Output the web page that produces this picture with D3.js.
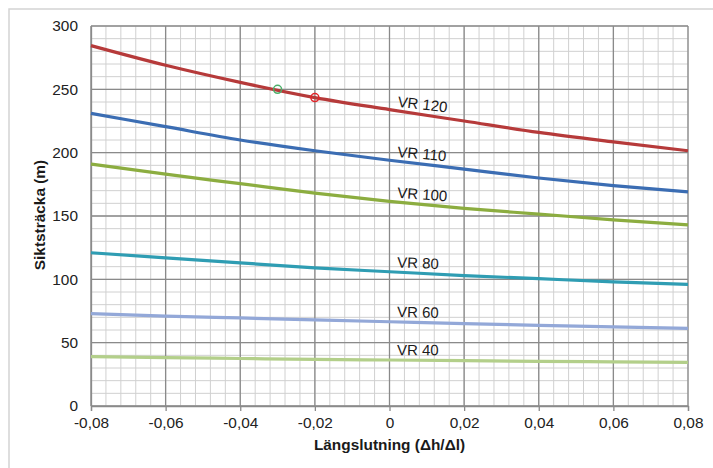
<!DOCTYPE html>
<html><head><meta charset="utf-8">
<script src="https://cdn.jsdelivr.net/npm/d3@7"></script>
<style>
body{margin:0;background:#fff;}
svg{display:block;font-family:"Liberation Sans",Arial,sans-serif;}
</style></head>
<body><svg id="c" width="713" height="468"></svg>
<script>
const xValues = [-0.08, -0.06, -0.04, -0.02, 0, 0.02, 0.04, 0.06, 0.08];
const seriesNames = ["VR 120", "VR 110", "VR 100", "VR 80", "VR 60", "VR 40"];
const vr120 = [284.5, 269, 255.5, 243.5, 234, 225, 216, 208.5, 201.5];
const vr110 = [231, 220.5, 210, 201.5, 194, 187, 180, 174, 169];
const vr100 = [191, 183, 175.5, 168, 161.5, 156, 151.5, 147, 143];
const vr80 = [121, 117, 113, 109, 106, 103, 100.5, 98, 96];
const vr60 = [73, 71, 69.5, 68, 66.5, 65, 63.7, 62.5, 61.3];
const vr40 = [39, 38.2, 37.5, 36.8, 36.3, 35.8, 35.3, 34.9, 34.5];
const seriesColors = ["#b63a3a", "#3b6db3", "#8cad40", "#2f9db3", "#93a8d8", "#b3cf8a"];
const xTicks = [-0.08, -0.06, -0.04, -0.02, 0, 0.02, 0.04, 0.06, 0.08];
const yTicks = [0, 50, 100, 150, 200, 250, 300];
const markerPoints = [{x: -0.03, y: 250, color: "#4caf6a"}, {x: -0.02, y: 243.5, color: "#e0252a"}];
const xTitle = "Längslutning (\u0394h/\u0394l)";
const yTitle = "Siktsträcka (m)";

const allSeries = [vr120, vr110, vr100, vr80, vr60, vr40];
const svg = d3.select("#c");
const L = 91, T = 26, R = 688, B = 406;
const x = d3.scaleLinear().domain([-0.08, 0.08]).range([L, R]);
const y = d3.scaleLinear().domain([0, 300]).range([B, T]);
const FONT = "Liberation Sans, Arial, sans-serif";

svg.append("rect").attr("x", 9).attr("y", 9).attr("width", 730).attr("height", 480)
  .attr("fill", "none").attr("stroke", "#d4d4d4").attr("stroke-width", 1.5);

const g = svg.append("g");
d3.range(-0.08, 0.0801, 0.004).forEach(v => {
  g.append("line").attr("x1", x(v)).attr("x2", x(v)).attr("y1", T).attr("y2", B)
    .attr("stroke", "#d0d0d0").attr("stroke-width", 1);
});
d3.range(0, 301, 10).forEach(v => {
  g.append("line").attr("x1", L).attr("x2", R).attr("y1", y(v)).attr("y2", y(v))
    .attr("stroke", "#d0d0d0").attr("stroke-width", 1);
});
xTicks.forEach(v => {
  g.append("line").attr("x1", x(v)).attr("x2", x(v)).attr("y1", T).attr("y2", B)
    .attr("stroke", "#8a8a8a").attr("stroke-width", 1.3);
});
yTicks.forEach(v => {
  g.append("line").attr("x1", L).attr("x2", R).attr("y1", y(v)).attr("y2", y(v))
    .attr("stroke", "#8a8a8a").attr("stroke-width", 1.3);
});

const xAxis = d3.axisBottom(x).tickValues(xTicks).tickSize(5).tickPadding(6)
  .tickFormat(d => d === 0 ? "0" : d3.format(".2f")(d).replace(".", ",").replace("\u2212", "-"));
const gx = svg.append("g").attr("transform", `translate(0,${B})`).call(xAxis);
gx.select(".domain").attr("stroke", "#8a8a8a").attr("stroke-width", 1.3);
gx.selectAll(".tick line").attr("stroke", "#8a8a8a").attr("stroke-width", 1.3);
gx.selectAll("text").attr("font-size", 15.4).attr("fill", "#222").attr("font-family", FONT);

const yAxis = d3.axisLeft(y).tickValues(yTicks).tickSize(0).tickPadding(13);
const gy = svg.append("g").attr("transform", `translate(${L},0)`).call(yAxis);
gy.select(".domain").attr("stroke", "#8a8a8a").attr("stroke-width", 1.3);
gy.selectAll("text").attr("font-size", 15.4).attr("fill", "#222").attr("font-family", FONT);

const line = d3.line().x((d, i) => x(xValues[i])).y(d => y(d)).curve(d3.curveMonotoneX);
allSeries.forEach((s, i) => {
  svg.append("path").attr("d", line(s)).attr("fill", "none")
    .attr("stroke", seriesColors[i]).attr("stroke-width", 3.2);
});

const interp = (s, v) => {
  const idx = Math.min(xValues.length - 2, Math.floor((v - xValues[0]) / 0.02));
  const t = (v - xValues[idx]) / 0.02;
  return s[idx] + (s[idx + 1] - s[idx]) * t;
};
allSeries.forEach((s, i) => {
  const t = svg.append("text").attr("font-size", 15).attr("fill", "#1a1a1a")
    .attr("font-family", FONT).text(seriesNames[i]);
  const w = t.node().getComputedTextLength();
  const startPx = x(0.002);
  const cxv = x.invert(startPx + w / 2);
  const py = y(interp(s, cxv));
  const dy = y(interp(s, 0.02)) - y(interp(s, 0));
  const ang = Math.atan2(dy, x(0.02) - x(0)) * 180 / Math.PI * 0.75;
  t.attr("text-anchor", "middle")
   .attr("transform", `translate(${startPx + w / 2},${py - 5}) rotate(${ang})`);
});

markerPoints.forEach(m => {
  svg.append("circle").attr("cx", x(m.x)).attr("cy", y(m.y)).attr("r", 4)
    .attr("fill", "none").attr("stroke", m.color).attr("stroke-width", 1.5);
});

svg.append("text").attr("x", x(0)).attr("y", 450).attr("text-anchor", "middle")
  .attr("font-size", 15.4).attr("font-weight", "bold").attr("fill", "#1a1a1a")
  .attr("font-family", FONT).text(xTitle);
svg.append("text").attr("transform", "translate(45,215) rotate(-90)").attr("text-anchor", "middle")
  .attr("font-size", 15.4).attr("font-weight", "bold").attr("fill", "#1a1a1a")
  .attr("font-family", FONT).text(yTitle);
</script></body></html>
